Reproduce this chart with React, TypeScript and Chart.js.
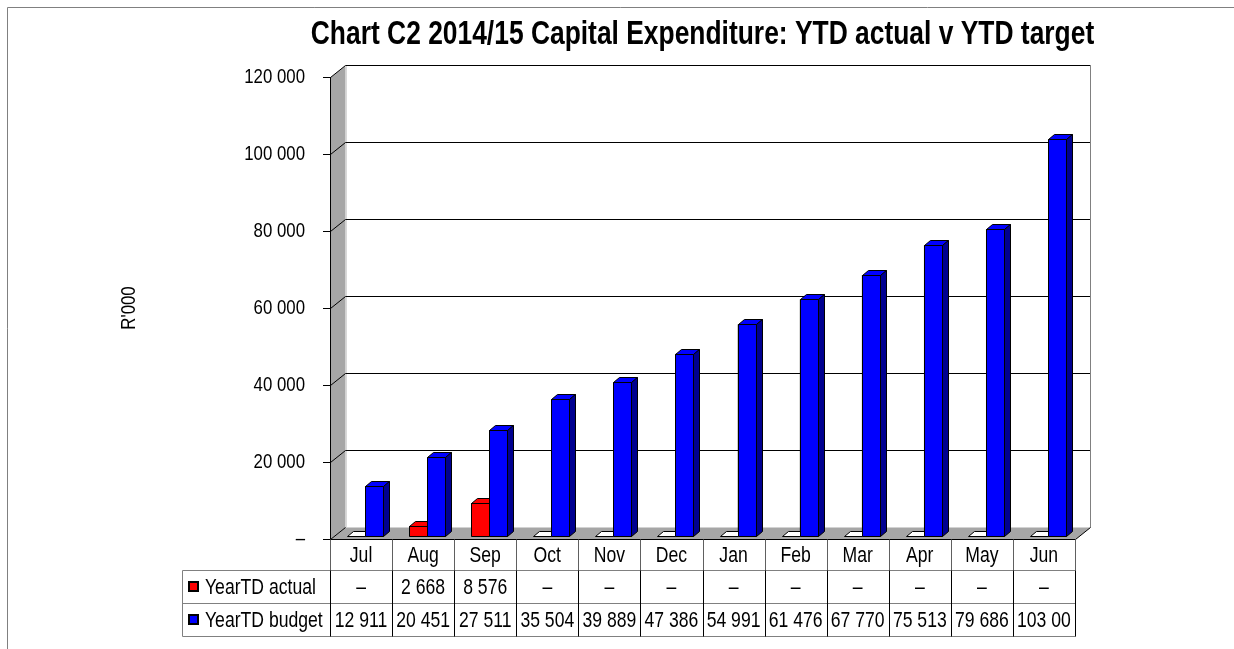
import React, { useEffect, useRef } from 'react';
import { Chart, registerables } from 'chart.js';

Chart.register(...registerables);

const months = ['Jul', 'Aug', 'Sep', 'Oct', 'Nov', 'Dec', 'Jan', 'Feb', 'Mar', 'Apr', 'May', 'Jun'];
const actual = [0, 2668, 8576, 0, 0, 0, 0, 0, 0, 0, 0, 0];
const budget = [12911, 20451, 27511, 35504, 39889, 47386, 54991, 61476, 67770, 75513, 79686, 103000];
const seriesNames = ['YearTD actual', 'YearTD budget'];
const seriesColors = ['#ff0000', '#0000ff'];
const seriesSideColors = ['#a00000', '#000090'];
const yMin = 0;
const yMax = 120000;
const yStep = 20000;
const titleText = 'Chart C2 2014/15 Capital Expenditure: YTD actual v YTD target';
const yTitle = "R'000";

const FONT = "'Liberation Sans', Arial, sans-serif";
const SX = 0.8; // horizontal condensing of the narrow face
const WALL = '#a6a6a6';
const DX = 15;
const DY = -12;
const BDX = 6;
const BDY = -5;
const SHIFT_X = 4;
const SHIFT_Y = -3;

const fmt = (v: number) =>
  v === 0 ? '\u2013' : String(v).replace(/\B(?=(\d{3})+(?!\d))/g, ' ');

function poly(ctx: CanvasRenderingContext2D, pts: number[][], fill?: string, stroke?: string) {
  ctx.beginPath();
  pts.forEach((p, i) => (i === 0 ? ctx.moveTo(p[0], p[1]) : ctx.lineTo(p[0], p[1])));
  ctx.closePath();
  if (fill) {
    ctx.fillStyle = fill;
    ctx.fill();
  }
  if (stroke) {
    ctx.strokeStyle = stroke;
    ctx.stroke();
  }
}

function line(ctx: CanvasRenderingContext2D, pts: number[][], color: string) {
  ctx.beginPath();
  pts.forEach((p, i) => (i === 0 ? ctx.moveTo(p[0], p[1]) : ctx.lineTo(p[0], p[1])));
  ctx.strokeStyle = color;
  ctx.stroke();
}

const threeD = {
  id: 'threeD',
  beforeDraw(chart: any) {
    const { ctx, chartArea: a, scales } = chart;
    const y = scales.y;
    const L = Math.round(a.left) + 0.5;
    const R = Math.round(a.right) + 0.5;
    const T = Math.round(a.top) + 0.5;
    const B = Math.round(a.bottom) + 0.5;
    ctx.save();
    ctx.lineWidth = 1;
    line(ctx, [[7.5, chart.height], [7.5, 7.5], [chart.width, 7.5]], '#808080');
    ctx.fillStyle = '#ffffff';
    ctx.fillRect(L + DX, T + DY, R - L, B - T);
    poly(ctx, [[L, T], [L + DX, T + DY], [L + DX, B + DY], [L, B]], WALL);
    poly(ctx, [[L, B], [R, B], [R + DX, B + DY], [L + DX, B + DY]], WALL);
    line(ctx, [[L + DX + 1, T + DY], [L + DX + 1, B + DY]], '#d8d8d8');
    y.ticks.forEach((t: any) => {
      if (t.value <= yMin) return;
      const yy = Math.round(y.getPixelForValue(t.value)) + 0.5;
      line(ctx, [[L, yy], [L + DX, yy + DY], [R + DX, yy + DY]], '#000');
    });
    line(ctx, [[R + DX, T + DY], [R + DX, B + DY]], '#808080');
    line(ctx, [[L, B], [R, B], [R + DX, B + DY]], '#000');
    line(ctx, [[L, B], [L + DX, B + DY]], '#000');
    ctx.restore();
  },
  beforeDatasetsDraw(chart: any) {
    chart.ctx.save();
    chart.ctx.translate(SHIFT_X, SHIFT_Y);
  },
  afterDatasetsDraw(chart: any) {
    const ctx = chart.ctx;
    ctx.lineWidth = 1;
    ctx.lineJoin = 'miter';
    const n = chart.data.labels.length;
    for (let i = 0; i < n; i++) {
      for (let d = 0; d < chart.data.datasets.length; d++) {
        const el = chart.getDatasetMeta(d).data[i];
        if (!el) continue;
        const { x, y, base, width } = el.getProps(['x', 'y', 'base', 'width'], true);
        const l = Math.round(x - width / 2) + 0.5;
        const r = Math.round(x + width / 2) + 0.5;
        const b = Math.round(base) + 0.5;
        const t = Math.round(y) + 0.5;
        if (Math.abs(b - t) < 1) {
          poly(ctx, [[l, b], [r, b], [r + BDX, b + BDY], [l + BDX, b + BDY]], '#ffffff', '#000');
        } else {
          poly(ctx, [[l, t], [r, t], [r, b], [l, b]], seriesColors[d], '#000');
          poly(ctx, [[l, t], [r, t], [r + BDX, t + BDY], [l + BDX, t + BDY]], seriesColors[d], '#000');
          poly(ctx, [[r, t], [r + BDX, t + BDY], [r + BDX, b + BDY], [r, b]], seriesSideColors[d], '#000');
        }
      }
    }
    ctx.restore();
  },
  afterDraw(chart: any) {
    const { ctx, chartArea: a, scales } = chart;
    const xs = scales.x;
    const n = months.length;
    const colW = (a.right - a.left) / n;
    const B = Math.round(a.bottom) + 0.5;
    const rowTops = [B, B + 31, B + 64, B + 97];
    const legL = 182.5;
    const R = Math.round(a.right) + 0.5;
    ctx.save();
    ctx.lineWidth = 1;
    line(ctx, [[legL, rowTops[1]], [R, rowTops[1]]], '#808080');
    line(ctx, [[legL, rowTops[2]], [R, rowTops[2]]], '#808080');
    line(ctx, [[legL, rowTops[3]], [R, rowTops[3]]], '#808080');
    line(ctx, [[legL, rowTops[1]], [legL, rowTops[3]]], '#808080');
    for (let i = 0; i <= n; i++) {
      const xx = Math.round(a.left + i * colW) + 0.5;
      line(ctx, [[xx, rowTops[0]], [xx, rowTops[1]]], '#606060');
      line(ctx, [[xx, rowTops[1]], [xx, rowTops[3]]], '#000');
    }
    ctx.font = `22px ${FONT}`;
    ctx.fillStyle = '#000';
    ctx.textBaseline = 'middle';
    ctx.textAlign = 'center';
    const rowsData = [actual, budget];
    for (let i = 0; i < n; i++) {
      const cx = xs.getPixelForValue(i);
      ctx.fillText(months[i], cx, (rowTops[0] + rowTops[1]) / 2 + 1);
      rowsData.forEach((arr, r) => {
        let s = fmt(arr[i]);
        while (s.length > 1 && ctx.measureText(s).width * SX > colW - 6) s = s.slice(0, -1);
        ctx.fillText(s, cx, (rowTops[r + 1] + rowTops[r + 2]) / 2 + 1);
      });
    }
    ctx.textAlign = 'left';
    seriesNames.forEach((name, r) => {
      const cy = (rowTops[r + 1] + rowTops[r + 2]) / 2;
      ctx.fillStyle = '#000';
      ctx.fillRect(188, Math.round(cy) - 6, 11, 11);
      ctx.fillStyle = seriesColors[r];
      ctx.fillRect(190, Math.round(cy) - 4, 7, 7);
      ctx.fillStyle = '#000';
      ctx.fillText(name, 205, cy + 1);
    });
    ctx.restore();
  },
};

export default function App() {
  const ref = useRef<HTMLCanvasElement | null>(null);
  useEffect(() => {
    const canvas = ref.current;
    if (!canvas) return;
    const c2d = canvas.getContext('2d') as any;
    const origFill = c2d.fillText.bind(c2d);
    c2d.fillText = function (text: string, x: number, y: number) {
      c2d.save();
      c2d.translate(x, y);
      c2d.scale(SX, 1);
      origFill(text, 0, 0);
      c2d.restore();
    };
    const chart = new Chart(canvas, {
      type: 'bar',
      data: {
        labels: months,
        datasets: [
          {
            label: seriesNames[0],
            data: actual,
            backgroundColor: seriesColors[0],
            borderColor: '#000',
            borderWidth: 1,
            borderSkipped: false,
            categoryPercentage: 0.58,
            barPercentage: 1,
          },
          {
            label: seriesNames[1],
            data: budget,
            backgroundColor: seriesColors[1],
            borderColor: '#000',
            borderWidth: 1,
            borderSkipped: false,
            categoryPercentage: 0.58,
            barPercentage: 1,
          },
        ],
      },
      options: {
        responsive: false,
        animation: false,
        layout: { padding: { left: 0, right: 159, top: 0, bottom: 110 } },
        plugins: {
          legend: { display: false },
          tooltip: { enabled: false },
          title: {
            display: true,
            text: titleText,
            color: '#000',
            fullSize: false,
            font: { family: FONT, size: 33, weight: 'bold' },
            padding: { top: 15, bottom: 22.4 },
          },
        },
        scales: {
          x: { display: false },
          y: {
            min: yMin,
            max: yMax,
            afterFit: (s: any) => {
              s.width = 330;
            },
            ticks: {
              stepSize: yStep,
              color: '#000',
              padding: 18,
              font: { family: FONT, size: 21 },
              callback: (v: any) => fmt(Number(v)),
            },
            grid: { drawOnChartArea: false, drawTicks: true, tickLength: 7, color: '#000' },
            border: { display: true, color: '#000' },
            title: {
              display: true,
              text: yTitle,
              color: '#000',
              font: { family: FONT, size: 21 },
              padding: { top: 117, bottom: 0 },
            },
          },
        },
      },
      plugins: [threeD],
    });
    return () => {
      chart.destroy();
      c2d.fillText = origFill;
    };
  }, []);
  return (
    <div style={{ position: 'absolute', left: 0, top: 0, width: 1234, height: 649, background: '#fff' }}>
      <canvas ref={ref} width={1234} height={649} />
    </div>
  );
}
